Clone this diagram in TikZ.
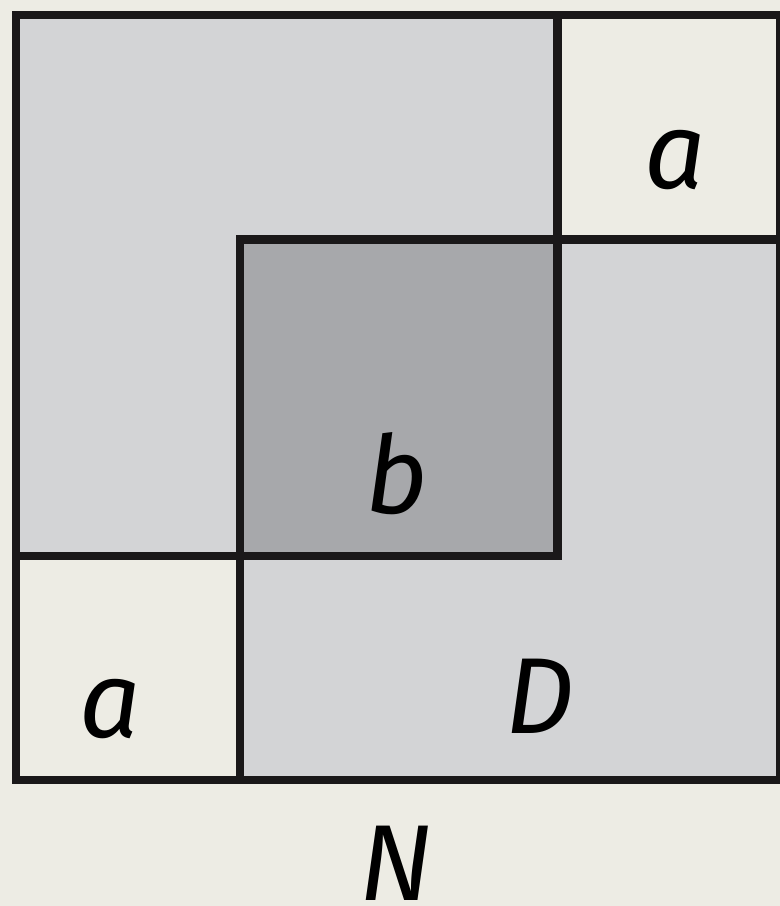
\documentclass[tikz,border=0pt]{standalone}
\usepackage{fontspec}
\setmainfont{Fira Sans}
\definecolor{bgc}{HTML}{EDECE4}
\definecolor{lightg}{HTML}{D3D4D6}
\definecolor{darkg}{HTML}{A7A8AB}
\definecolor{linec}{HTML}{1A1819}
\tikzset{
  frame/.style={draw=linec, line width=8.5pt, line join=miter, line cap=rect},
  lbl/.style={inner sep=0pt, anchor=base, text=black, font=\fontsize{108}{108}\selectfont\itshape}
}
\begin{document}
\begin{tikzpicture}[x=1pt,y=-1pt]
\fill[bgc] (0,0) rectangle (780,906);
\useasboundingbox (0,0) rectangle (780,906);
% filled regions
\fill[lightg] (16,15) rectangle (557.5,556);
\fill[lightg] (240,239.5) rectangle (780,780);
\fill[darkg] (240,239.5) rectangle (557.5,556);
% outlines
\draw[frame] (16,15) rectangle (780,780);
\draw[frame] (16,556) -- (557.5,556) -- (557.5,15);
\draw[frame] (240,780) -- (240,239.5) -- (780,239.5);
% labels
\node[lbl] (atop) at (675,188) {a};
\node[lbl] (b) at (397,513) {b};
\node[lbl] (abot) at (110,737) {a};
\node[lbl] (D) at (540,733) {D};
\node[lbl] (N) at (396,900) {N};
\end{tikzpicture}
\end{document}
